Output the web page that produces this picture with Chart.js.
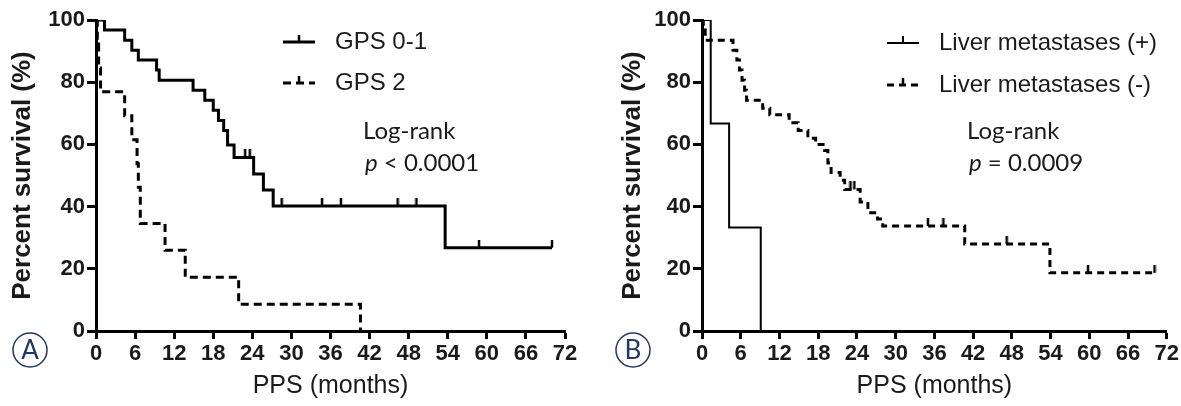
<!DOCTYPE html>
<html>
<head>
<meta charset="utf-8">
<script src="https://cdn.jsdelivr.net/npm/chart.js@4.4.0/dist/chart.umd.min.js"></script>
<style>
  body { margin: 0; background: #fff; }
  #wrap { position: relative; width: 1181px; height: 406px; }
  canvas { position: absolute; top: 0; }
</style>
</head>
<body>
<div id="wrap">
  <canvas id="panelA" width="590" height="406" style="left:0"></canvas>
  <canvas id="panelB" width="591" height="406" style="left:590px"></canvas>
</div>
<script>
// tick values
const monthTicks = [0, 6, 12, 18, 24, 30, 36, 42, 48, 54, 60, 66, 72];
const survivalTicks = [0, 20, 40, 60, 80, 100];

// panel A : GPS 0-1 (solid)
const gps01Months = [0, 1.3, 4.4, 5.5, 6.5, 9.3, 9.7, 14.9, 16.7, 18.0, 18.8, 19.6, 20.2, 21.2, 24.2, 25.7, 27.2, 53.6, 70.0];
const gps01Surv   = [100, 96.8, 93.5, 90.3, 87.1, 83.9, 80.6, 77.4, 74.2, 71.0, 67.7, 64.5, 59.8, 55.8, 50.5, 45.3, 40.2, 26.8, 26.8];
const gps01Censored = [0.9, 22.9, 23.6, 28.5, 34.7, 37.6, 46.3, 49.2, 58.8, 70.0];

// panel A : GPS 2 (dashed)
const gps2Months = [0, 0.2, 0.4, 0.7, 4.4, 5.5, 6.3, 6.5, 6.8, 10.6, 13.7, 21.9, 40.6];
const gps2Surv   = [100, 92.3, 84.6, 76.9, 69.2, 61.5, 53.8, 46.2, 34.6, 26.0, 17.3, 8.6, 0];

// panel B : liver metastases (+) (solid)
const liverPosMonths = [0, 1.35, 4.2, 9.1];
const liverPosSurv   = [100, 66.7, 33.3, 0];

// panel B : liver metastases (-) (dashed)
const liverNegMonths = [0, 0.2, 0.5, 4.8, 5.4, 5.8, 6.2, 6.6, 6.9, 9.4, 10.5, 13.5, 14.9, 16.4, 17.6, 19.0, 19.5, 20.0, 21.4, 22.1, 24.5, 25.7, 27.2, 28.0, 40.7, 53.9, 70.1];
const liverNegSurv   = [100, 96.8, 93.5, 90.3, 87.1, 83.9, 80.6, 77.4, 74.2, 71.6, 69.5, 67.0, 64.5, 62.0, 60.0, 58.0, 54.0, 51.0, 48.5, 45.5, 41.5, 38.0, 36.0, 33.8, 28.0, 18.7, 18.7];
const liverNegCensored = [23.0, 23.6, 35.0, 37.4, 47.2, 59.8, 70.1];

const legendA = ['GPS 0-1', 'GPS 2'];
const legendB = ['Liver metastases (+)', 'Liver metastases (-)'];

const sans = "'Liberation Sans', Arial, sans-serif";
const humanist = "Lato, 'Open Sans', sans-serif";
const navy = '#1f3a68';

function stepPoints(months, surv) {
  return months.map((m, i) => ({ x: m, y: surv[i] }));
}

function survAt(months, surv, t) {
  let v = surv[0];
  for (let i = 0; i < months.length; i++) {
    if (months[i] <= t) v = surv[i];
  }
  return v;
}

// small up-pointing censor mark
function censorMark(w) {
  const c = document.createElement('canvas');
  c.width = 4; c.height = 16;
  const g = c.getContext('2d');
  g.strokeStyle = '#000';
  g.lineWidth = w;
  g.beginPath(); g.moveTo(2, 0); g.lineTo(2, 8); g.stroke();
  return c;
}

// legend, log-rank note and panel letter
const notesPlugin = {
  id: 'notes',
  afterDraw(chart, args, opts) {
    const ctx = chart.ctx;
    ctx.save();
    opts.items.forEach((it, i) => {
      const ds = chart.data.datasets[i];
      const y = opts.legendY[i];
      ctx.strokeStyle = '#000';
      ctx.lineWidth = ds.borderWidth;
      ctx.setLineDash(ds.borderDash || []);
      ctx.beginPath();
      ctx.moveTo(opts.legendX, y);
      ctx.lineTo(opts.legendX + 32, y);
      ctx.stroke();
      ctx.setLineDash([]);
      ctx.lineWidth = Math.max(2, ds.borderWidth - 0.5);
      ctx.beginPath();
      ctx.moveTo(opts.legendX + 16, y);
      ctx.lineTo(opts.legendX + 16, y - 7);
      ctx.stroke();
      ctx.fillStyle = '#1a1a1a';
      ctx.font = '24px ' + sans;
      ctx.textBaseline = 'middle';
      ctx.textAlign = 'left';
      ctx.fillText(it, opts.legendX + 52, y);
    });

    ctx.fillStyle = '#1a1a1a';
    ctx.font = '24px ' + humanist;
    ctx.textBaseline = 'middle';
    ctx.fillText('Log-rank', opts.noteX, 131);
    ctx.font = 'italic 24px ' + humanist;
    ctx.fillText('p', opts.noteX + 2, 163);
    const pw = ctx.measureText('p').width;
    ctx.font = '24px ' + humanist;
    ctx.fillText(opts.pText, opts.noteX + 2 + pw, 163);

    ctx.strokeStyle = navy;
    ctx.lineWidth = 1.5;
    ctx.beginPath();
    ctx.ellipse(opts.letterX, 350, 17, 17, 0, 0, Math.PI * 2);
    ctx.stroke();
    ctx.fillStyle = navy;
    ctx.font = '26px ' + humanist;
    ctx.textAlign = 'center';
    ctx.fillText(opts.letter, opts.letterX, 351);
    ctx.restore();
  }
};

function makePanel(id, sets, opts) {
  const datasets = sets.map(s => ({
    data: stepPoints(s.months, s.surv),
    borderColor: '#000',
    borderWidth: s.width,
    borderDash: s.dash,
    stepped: true,
    pointRadius: 0,
    fill: false
  }));
  sets.forEach(s => {
    if (!s.censored) return;
    datasets.push({
      type: 'scatter',
      data: s.censored.map(t => ({ x: t, y: survAt(s.months, s.surv, t) })),
      pointStyle: censorMark(s.width - 0.5),
      pointRadius: 5,
      showLine: false
    });
  });

  return new Chart(document.getElementById(id), {
    type: 'line',
    data: { datasets: datasets },
    options: {
      responsive: false,
      animation: false,
      layout: { padding: opts.padding },
      plugins: {
        legend: { display: false },
        tooltip: { enabled: false },
        notes: opts.notes
      },
      scales: {
        x: {
          type: 'linear',
          min: 0,
          max: 72,
          afterBuildTicks: (axis) => { axis.ticks = monthTicks.map(v => ({ value: v })); },
          afterFit: (axis) => { axis.height = 75; },
          ticks: { color: '#1a1a1a', font: { family: sans, size: 22, weight: 'bold' }, padding: 2, maxRotation: 0, autoSkip: false },
          grid: { drawOnChartArea: false, tickLength: 8, tickWidth: 3, tickColor: '#000' },
          border: { color: '#000', width: 3 },
          title: { display: true, text: 'PPS (months)', color: '#1a1a1a', font: { family: sans, size: 25 }, padding: { top: 0, bottom: 5 } }
        },
        y: {
          min: 0,
          max: 100,
          afterBuildTicks: (axis) => { axis.ticks = survivalTicks.map(v => ({ value: v })); },
          afterFit: (axis) => { axis.width = opts.yWidth; },
          ticks: { color: '#1a1a1a', font: { family: sans, size: 22, weight: 'bold' }, padding: 2 },
          grid: { drawOnChartArea: false, tickLength: 9, tickWidth: 3, tickColor: '#000' },
          border: { color: '#000', width: 3 },
          title: { display: true, text: 'Percent survival (%)', color: '#1a1a1a', font: { family: sans, size: 26, weight: 'bold' }, padding: { top: 7, bottom: 0 } }
        }
      }
    },
    plugins: [notesPlugin]
  });
}

makePanel('panelA', [
  { months: gps01Months, surv: gps01Surv, width: 3, dash: [], censored: gps01Censored },
  { months: gps2Months, surv: gps2Surv, width: 3, dash: [8, 5] }
], {
  padding: { left: 0, right: 25, top: 20, bottom: 0 },
  yWidth: 96,
  notes: { items: legendA, legendX: 283, legendY: [42, 83], noteX: 363, pText: ' < 0.0001', letter: 'A', letterX: 30 }
});

makePanel('panelB', [
  { months: liverPosMonths, surv: liverPosSurv, width: 2, dash: [] },
  { months: liverNegMonths, surv: liverNegSurv, width: 3, dash: [7, 5], censored: liverNegCensored }
], {
  padding: { left: 20, right: 14, top: 20, bottom: 0 },
  yWidth: 92,
  notes: { items: legendB, legendX: 297, legendY: [43, 85], noteX: 377, pText: ' = 0.0009', letter: 'B', letterX: 43 }
});
</script>
</body>
</html>
